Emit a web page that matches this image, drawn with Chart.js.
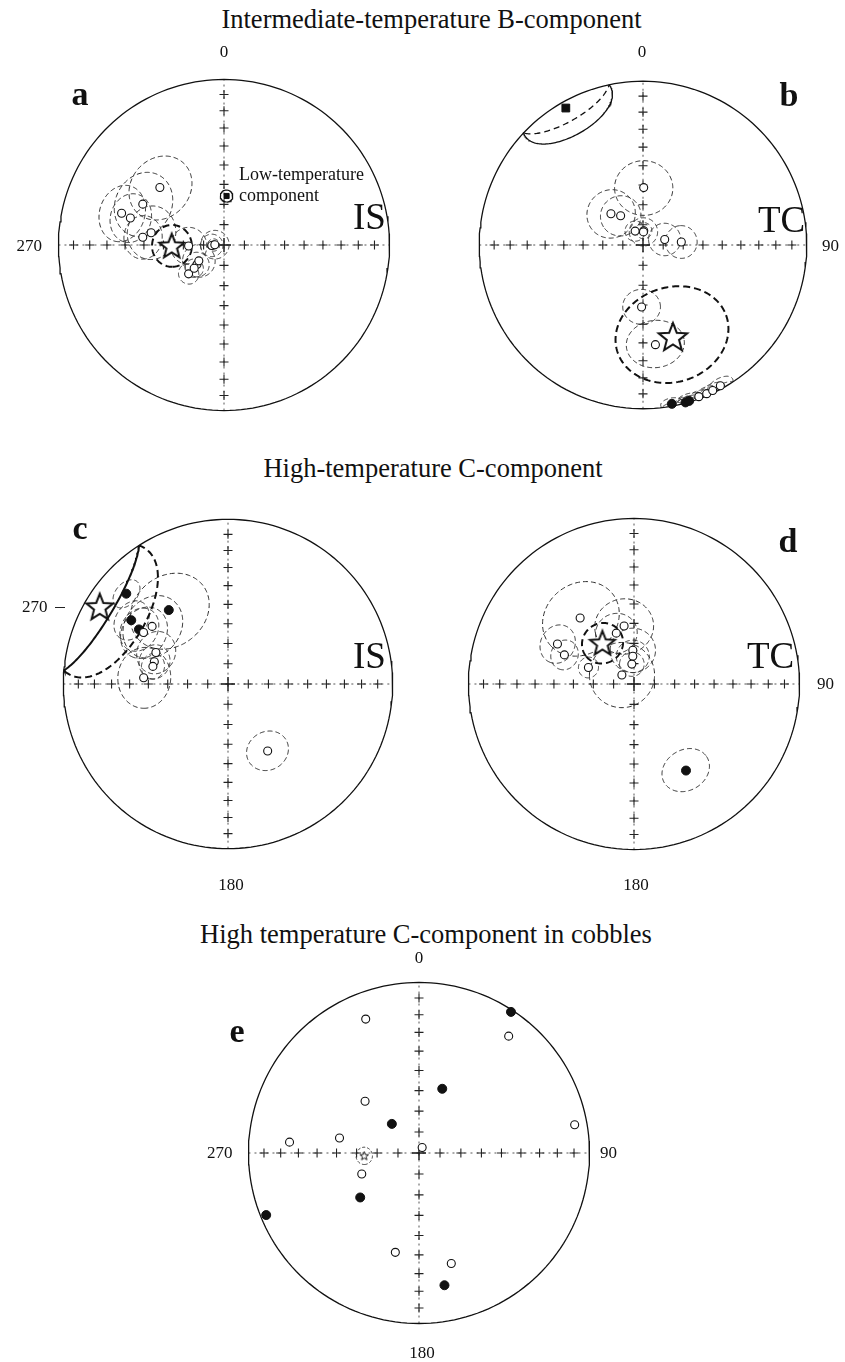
<!DOCTYPE html>
<html>
<head>
<meta charset="utf-8">
<script src="https://cdn.jsdelivr.net/npm/chart.js@4.4.0/dist/chart.umd.min.js"></script>
<style>
  html, body { margin: 0; padding: 0; background: #fff; }
  body { width: 845px; height: 1362px; position: relative; overflow: hidden;
         font-family: "Liberation Serif", "DejaVu Serif", serif; color: #111; }
  canvas { position: absolute; }
  .t { position: absolute; white-space: nowrap; line-height: 1; }
  .tick { position: absolute; height: 1px; background: #222; }
</style>
</head>
<body>
<canvas id="pa" width="400" height="400"></canvas>
<canvas id="pb" width="400" height="400"></canvas>
<canvas id="pc" width="400" height="400"></canvas>
<canvas id="pd" width="400" height="400"></canvas>
<canvas id="pe" width="400" height="400"></canvas>
<script>
// ---- Site directions: [declination, inclination, alpha95] (negative inclination = upper hemisphere) ----
// (a) intermediate-temperature B-component, in situ
const sitesA = [
  [311.9, -46.8, 15.5], [296.7, -44.3, 15], [287.2, -35.5, 12.5], [286.1, -40.8, 11],
  [279.6, -53.2, 12.5], [275.4, -49.2, 10], [268.5, -72.6, 9],
  [270, -84.9, 3], [268, -84.0, 5.5], [272, -85.5, 7],
  [234.1, -73.6, 6], [230.8, -67.5, 5], [237.8, -75.4, 8], [232, -71.4, 4.5]
];
const meanA = [269, -64.2, 10];
const lowTempA = [3, 65.8, 3];

// (b) intermediate-temperature B-component, tilt corrected
const sitesB = [
  [0.7, -61.3, 14], [314.3, -67.7, 12], [322.6, -71.7, 10], [3, -82.9, 4], [2, -83.5, 7],
  [330.5, -82.1, 5], [75.7, -78.9, 8], [85.5, -70.9, 8], [181.3, -58.9, 9], [172.9, -38.6, 13],
  [169.7, 1.6, 4], [164.9, 0.5, 4], [163.5, 0.8, 5],
  [159.8, -1.5, 4], [156.8, -1.4, 4.5], [154.4, -1.7, 4.5], [151.2, -2.2, 5]
];
const meanB = [162, -40.6, 26];
const lowTempB = [330.6, 4.5, 18];

// (c) high-temperature C-component, in situ
const sitesC = [
  [311.6, 18.5, 6.5], [321.3, 42, 19], [303.4, 30.3, 9], [301.5, 36.7, 10],
  [307.2, -41.7, 15], [301.4, -39.7, 12], [293.6, -50.5, 10], [286.8, -51.4, 8],
  [283.2, -51.3, 6], [274.2, -47.4, 14], [149.4, -50.9, 10]
];
const meanC = [301, -10, 28];

// (d) high-temperature C-component, tilt corrected
const sitesD = [
  [320.8, -47.3, 18.5], [297.6, -46.7, 9], [292.7, -52.4, 7], [289.9, -66.1, 5],
  [350.3, -60.9, 14], [340.8, -63.4, 10], [358, -73.4, 11], [357.5, -76.4, 8],
  [353.8, -80.2, 6], [306.7, -82.6, 16], [149, 38.9, 11]
];
const meanD = [322.3, -64.5, 10];

// (e) high-temperature C-component in cobbles: [declination, inclination]
const sitesE = [
  [33.1, 1.4], [37.5, -14.7], [338.3, -16.6], [19.9, 57.1], [313.8, -53.9], [317, 71],
  [79.7, -8], [274.8, -24.8], [280.7, -50.8], [30, -87], [249.8, -60.7], [232.9, 54.4],
  [247.9, 3.7], [193.4, -39.9], [163.7, -33], [169.1, 22.1]
];
const meanE = [267, -63.7, 4];

// Graticule: inclination ticks along the four cardinal directions
const tickIncs = [80, 70, 60, 50, 40, 30, 20, 10];
const cardinalDecs = [0, 90, 180, 270];

// ---- Equal-area projection helpers ----
const D2R = Math.PI / 180;
const R = 178, S = 400, LIM = (S / 2) / R;

function project(dec, inc) {
  const colat = (90 - Math.abs(inc)) * D2R;
  const r = Math.SQRT2 * Math.sin(colat / 2);
  return { x: r * Math.sin(dec * D2R), y: r * Math.cos(dec * D2R) };
}

function cross3(a, b) {
  return [a[1] * b[2] - a[2] * b[1], a[2] * b[0] - a[0] * b[2], a[0] * b[1] - a[1] * b[0]];
}

// Cone of half-angle a95 around a direction, as a list of directions
function smallCircle(dec, inc, a95, n) {
  n = n || 180;
  const D = dec * D2R, I = inc * D2R, A = a95 * D2R;
  const c = [Math.cos(I) * Math.cos(D), Math.cos(I) * Math.sin(D), Math.sin(I)];
  const k = Math.abs(c[2]) > 0.95 ? [1, 0, 0] : [0, 0, 1];
  let u = cross3(c, k);
  const un = Math.hypot(u[0], u[1], u[2]);
  u = u.map(q => q / un);
  const v = cross3(c, u);
  const pts = [];
  for (let i = 0; i <= n; i++) {
    const t = 2 * Math.PI * i / n;
    const p = [0, 1, 2].map(j => Math.cos(A) * c[j] + Math.sin(A) * (Math.cos(t) * u[j] + Math.sin(t) * v[j]));
    pts.push({ dec: Math.atan2(p[1], p[0]) / D2R, inc: Math.asin(Math.max(-1, Math.min(1, p[2]))) / D2R });
  }
  return pts;
}

// Split a closed cone trace into lower / upper hemisphere runs
function hemisphereRuns(pts) {
  const runs = [];
  let cur = { lower: pts[0].inc >= 0, pts: [pts[0]] };
  for (let i = 1; i < pts.length; i++) {
    const lw = pts[i].inc >= 0;
    cur.pts.push(pts[i]);
    if (lw !== cur.lower) { runs.push(cur); cur = { lower: lw, pts: [pts[i]] }; }
  }
  runs.push(cur);
  if (runs.length > 1 && runs[0].lower === runs[runs.length - 1].lower) {
    const last = runs.pop();
    runs[0].pts = last.pts.concat(runs[0].pts.slice(1));
  }
  return runs;
}

function starImage(r, lw) {
  const s = Math.ceil(2 * r + 2 * lw + 4);
  const cv = document.createElement('canvas');
  cv.width = cv.height = s;
  const g = cv.getContext('2d');
  g.translate(s / 2, s / 2 + r * 0.06);
  g.beginPath();
  for (let i = 0; i < 10; i++) {
    const rr = i % 2 === 0 ? r : r * 0.43;
    const a = -Math.PI / 2 + i * Math.PI / 5;
    g.lineTo(rr * Math.cos(a), rr * Math.sin(a));
  }
  g.closePath();
  g.fillStyle = '#fff';
  g.fill();
  g.lineWidth = lw;
  g.lineJoin = 'miter';
  g.strokeStyle = '#111';
  g.stroke();
  return cv;
}

const thinDash = { color: '#2a2a2a', width: 1, lowerDash: [5, 3], upperDash: [5, 3] };
const meanDash = { color: '#111', width: 2, lowerDash: [7, 4], upperDash: [7, 4] };

function addCone(ds, dir, st) {
  hemisphereRuns(smallCircle(dir[0], dir[1], dir[2])).forEach(run => {
    ds.push({
      data: run.pts.map(p => project(p.dec, p.inc)),
      showLine: true, pointRadius: 0, fill: false, tension: 0,
      borderColor: st.color, borderWidth: st.width,
      borderDash: run.lower ? st.lowerDash : st.upperDash,
      order: 2
    });
  });
}

function buildPanel(id, cx, cy, o) {
  const cv = document.getElementById(id);
  cv.style.left = (cx - S / 2) + 'px';
  cv.style.top = (cy - S / 2) + 'px';
  const ds = [];

  const open = o.sites.filter(s => s[1] < 0).map(s => project(s[0], s[1]));
  const filled = o.sites.filter(s => s[1] >= 0).map(s => project(s[0], s[1]));
  ds.push({ data: open, pointStyle: 'circle', pointRadius: 4, pointBackgroundColor: '#fff',
            pointBorderColor: '#111', pointBorderWidth: 1.1, order: 0 });
  ds.push({ data: filled, pointStyle: 'circle', pointRadius: 4.5, pointBackgroundColor: '#111',
            pointBorderColor: '#111', pointBorderWidth: 1, order: 0 });
  if (o.mean) {
    ds.push({ data: [project(o.mean[0], o.mean[1])], pointStyle: starImage(o.starR, o.starLW),
              pointRadius: o.starR, order: 0 });
    addCone(ds, o.mean, o.meanStyle);
  }
  if (o.lowTemp) {
    ds.push({ data: [project(o.lowTemp[0], o.lowTemp[1])], pointStyle: 'rect', pointRadius: o.squareR,
              pointBackgroundColor: '#111', pointBorderColor: '#111', pointBorderWidth: 1, order: 0 });
    addCone(ds, o.lowTemp, o.lowStyle);
  }
  if (o.siteCones) o.sites.forEach(s => addCone(ds, s, thinDash));

  // primitive circle
  const prim = [];
  for (let a = 0; a <= 360; a += 2) prim.push({ x: Math.sin(a * D2R), y: Math.cos(a * D2R) });
  ds.push({ data: prim, showLine: true, pointRadius: 0, fill: false, borderColor: '#111',
            borderWidth: 1.3, order: 3 });

  // inclination crosses and centre cross
  const crosses = [];
  cardinalDecs.forEach(d => tickIncs.forEach(i => crosses.push(project(d, i))));
  ds.push({ data: crosses, pointStyle: 'cross', pointRadius: 4.5, pointBorderColor: '#222',
            pointBorderWidth: 1.1, order: 4 });
  ds.push({ data: [{ x: 0, y: 0 }], pointStyle: 'cross', pointRadius: 7, pointBorderColor: '#111',
            pointBorderWidth: 1.4, order: 4 });

  // dotted diameters
  ds.push({ data: [{ x: -1, y: 0 }, { x: 1, y: 0 }], showLine: true, pointRadius: 0,
            borderColor: '#444', borderWidth: 0.9, borderDash: [2, 4], order: 5 });
  ds.push({ data: [{ x: 0, y: -1 }, { x: 0, y: 1 }], showLine: true, pointRadius: 0,
            borderColor: '#444', borderWidth: 0.9, borderDash: [2, 4], order: 5 });

  new Chart(cv, {
    type: 'scatter',
    data: { datasets: ds },
    options: {
      responsive: false, animation: false, events: [],
      layout: { padding: 0 },
      plugins: { legend: { display: false }, tooltip: { enabled: false } },
      scales: {
        x: { type: 'linear', min: -LIM, max: LIM, display: false },
        y: { type: 'linear', min: -LIM, max: LIM, display: false }
      }
    }
  });
}

buildPanel('pa', 224, 245, { sites: sitesA, siteCones: true, mean: meanA, starR: 13, starLW: 2,
  meanStyle: meanDash, lowTemp: lowTempA, squareR: 3.6,
  lowStyle: { color: '#111', width: 1.2, lowerDash: [], upperDash: [4, 3] } });
buildPanel('pb', 642.5, 245, { sites: sitesB, siteCones: true, mean: meanB, starR: 15, starLW: 2,
  meanStyle: meanDash, lowTemp: lowTempB, squareR: 5.5,
  lowStyle: { color: '#111', width: 1.3, lowerDash: [], upperDash: [6, 4] } });
buildPanel('pc', 228, 684, { sites: sitesC, siteCones: true, mean: meanC, starR: 14, starLW: 2,
  meanStyle: { color: '#111', width: 2, lowerDash: [], upperDash: [7, 4] } });
buildPanel('pd', 634, 683.5, { sites: sitesD, siteCones: true, mean: meanD, starR: 13, starLW: 2,
  meanStyle: meanDash });
buildPanel('pe', 419, 1153, { sites: sitesE, siteCones: false, mean: meanE, starR: 4.5, starLW: 1,
  meanStyle: { color: '#222', width: 1, lowerDash: [3, 2], upperDash: [3, 2] } });

// ---- Text ----
function label(txt, x, base, size, align, bold) {
  const d = document.createElement('div');
  d.className = 't';
  d.textContent = txt;
  d.style.fontSize = size + 'px';
  if (bold) d.style.fontWeight = 'bold';
  d.style.top = (base - 0.8375 * size) + 'px';
  d.style.left = x + 'px';
  if (align === 'center') d.style.transform = 'translateX(-50%)';
  if (align === 'right') d.style.transform = 'translateX(-100%)';
  document.body.appendChild(d);
}
function tickMark(x, y, w) {
  const d = document.createElement('div');
  d.className = 'tick';
  d.style.left = x + 'px'; d.style.top = y + 'px'; d.style.width = w + 'px';
  document.body.appendChild(d);
}

label('Intermediate-temperature B-component', 431.5, 28, 26.5, 'center');
label('High-temperature C-component', 433, 477, 26.5, 'center');
label('High temperature C-component in cobbles', 426, 943, 26.5, 'center');

// a
label('0', 224, 57, 17, 'center');
label('270', 42, 251, 17, 'right');
label('a', 80, 105, 34, 'center', true);
label('IS', 353, 229, 37, 'left');
label('Low-temperature', 239, 180, 18, 'left');
label('component', 239, 201, 18, 'left');
// b
label('0', 642, 57, 17, 'center');
label('90', 822, 251, 17, 'left');
label('b', 789, 106, 34, 'center', true);
label('TC', 758, 232, 37, 'left');
// c
label('c', 80, 539, 34, 'center', true);
label('270', 22, 612, 17, 'left');
tickMark(55, 607, 10);
label('IS', 353, 668, 37, 'left');
label('180', 231, 890, 17, 'center');
// d
label('d', 788, 552, 34, 'center', true);
label('TC', 747, 668, 37, 'left');
label('90', 817, 689, 17, 'left');
label('180', 636, 890, 17, 'center');
// e
label('0', 419, 963, 17, 'center');
label('270', 207, 1158, 17, 'left');
label('90', 600, 1158, 17, 'left');
label('180', 422, 1358, 17, 'center');
label('e', 237, 1042, 34, 'center', true);
</script>
</body>
</html>
